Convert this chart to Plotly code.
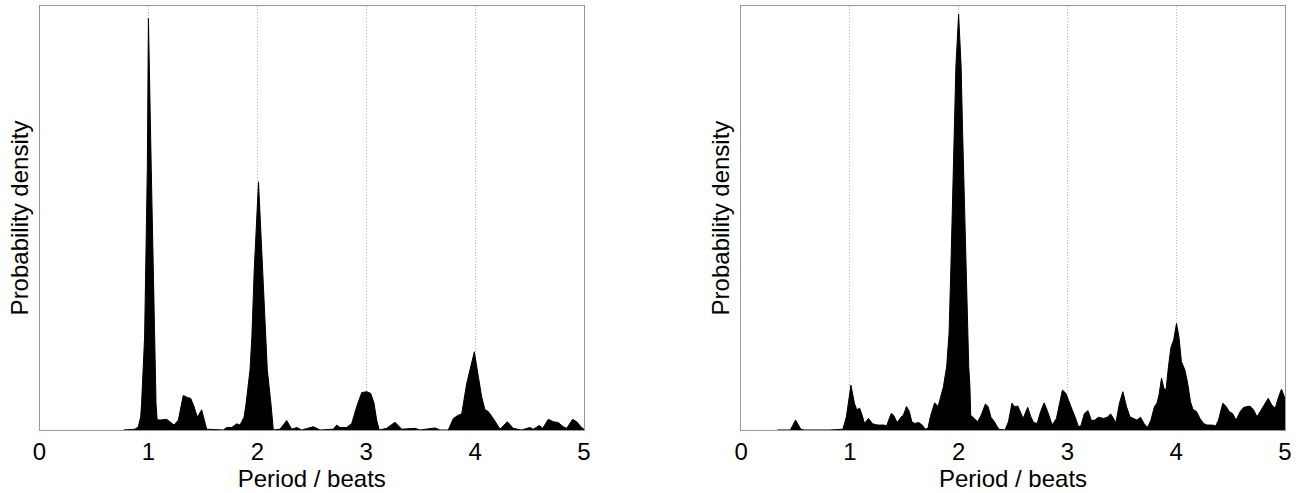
import plotly.graph_objects as go

# ---- data ----
left_x = [0.77, 0.877, 0.907, 0.929, 0.937, 0.965, 0.99, 1.0, 1.026, 1.057, 1.07, 1.08,
          1.107, 1.168, 1.198, 1.235, 1.275, 1.296, 1.32, 1.357, 1.388, 1.419, 1.449, 1.489,
          1.51, 1.535, 1.688, 1.719, 1.765, 1.811, 1.841, 1.878, 1.896, 1.933, 1.95, 1.972,
          2.011, 2.05, 2.074, 2.092, 2.126, 2.147, 2.208, 2.27, 2.316, 2.362, 2.408, 2.514,
          2.576, 2.698, 2.729, 2.76, 2.821, 2.867, 2.913, 2.959, 3.005, 3.041, 3.072, 3.096,
          3.12, 3.188, 3.264, 3.326, 3.448, 3.494, 3.632, 3.678, 3.754, 3.8, 3.846, 3.877,
          3.923, 3.993, 4.03, 4.06, 4.091, 4.121, 4.167, 4.229, 4.296, 4.351, 4.428, 4.504,
          4.535, 4.59, 4.621, 4.672, 4.718, 4.764, 4.81, 4.841, 4.896, 4.933, 4.979, 5.0]
left_y = [0.0, 0.002, 0.008, 0.032, 0.063, 0.226, 0.636, 1.0, 0.636, 0.226, 0.063, 0.025,
          0.024, 0.026, 0.02, 0.012, 0.024, 0.057, 0.084, 0.079, 0.077, 0.057, 0.031, 0.049,
          0.024, 0.002, 0.0, 0.006, 0.006, 0.015, 0.012, 0.031, 0.062, 0.146, 0.227, 0.39,
          0.603, 0.39, 0.227, 0.146, 0.062, 0.0, 0.002, 0.023, 0.002, 0.006, 0.0, 0.008,
          0.0, 0.002, 0.012, 0.006, 0.006, 0.016, 0.057, 0.091, 0.093, 0.089, 0.065, 0.024,
          0.0, 0.004, 0.019, 0.002, 0.004, 0.0, 0.005, 0.0, 0.0, 0.028, 0.036, 0.039,
          0.113, 0.19, 0.13, 0.081, 0.049, 0.045, 0.028, 0.002, 0.02, 0.004, 0.0, 0.006,
          0.002, 0.011, 0.004, 0.026, 0.02, 0.018, 0.008, 0.004, 0.026, 0.02, 0.006, 0.002]

right_x = [0.334, 0.453, 0.501, 0.549, 0.582, 0.817, 0.936, 0.968, 1.01, 1.042, 1.064, 1.09,
           1.113, 1.135, 1.171, 1.209, 1.257, 1.312, 1.338, 1.38, 1.402, 1.435, 1.473, 1.492,
           1.521, 1.547, 1.57, 1.595, 1.634, 1.666, 1.692, 1.718, 1.74, 1.779, 1.811, 1.837,
           1.86, 1.89, 1.912, 1.929, 1.943, 1.957, 1.975, 2.0, 2.023, 2.037, 2.051, 2.065,
           2.083, 2.093, 2.104, 2.111, 2.143, 2.175, 2.207, 2.246, 2.271, 2.297, 2.329, 2.368,
           2.426, 2.458, 2.49, 2.513, 2.545, 2.571, 2.593, 2.635, 2.664, 2.69, 2.722, 2.754,
           2.786, 2.818, 2.86, 2.899, 2.931, 2.954, 2.986, 3.012, 3.044, 3.07, 3.102, 3.124,
           3.156, 3.189, 3.221, 3.253, 3.285, 3.333, 3.366, 3.398, 3.446, 3.478, 3.51, 3.543,
           3.575, 3.607, 3.639, 3.672, 3.704, 3.736, 3.768, 3.8, 3.823, 3.842, 3.865, 3.887,
           3.906, 3.929, 3.951, 3.977, 4.003, 4.025, 4.048, 4.08, 4.106, 4.131, 4.154, 4.186,
           4.219, 4.251, 4.283, 4.331, 4.363, 4.389, 4.428, 4.46, 4.486, 4.518, 4.55, 4.589,
           4.621, 4.678, 4.711, 4.743, 4.782, 4.814, 4.846, 4.878, 4.91, 4.942, 4.968, 4.994, 5.0]
right_y = [0.0, 0.0, 0.024, 0.002, 0.0, 0.0, 0.002, 0.032, 0.109, 0.065, 0.049, 0.053,
           0.036, 0.016, 0.028, 0.015, 0.012, 0.012, 0.01, 0.04, 0.036, 0.018, 0.032, 0.036,
           0.057, 0.045, 0.02, 0.016, 0.018, 0.012, 0.002, 0.004, 0.032, 0.066, 0.057, 0.081,
           0.105, 0.154, 0.235, 0.397, 0.56, 0.72, 0.883, 1.01, 0.883, 0.72, 0.56, 0.397,
           0.235, 0.154, 0.105, 0.036, 0.028, 0.02, 0.036, 0.063, 0.057, 0.031, 0.02, 0.002,
           0.0, 0.02, 0.065, 0.057, 0.058, 0.04, 0.028, 0.055, 0.032, 0.018, 0.016, 0.045,
           0.066, 0.045, 0.012, 0.028, 0.073, 0.097, 0.089, 0.069, 0.049, 0.032, 0.008, 0.01,
           0.04, 0.047, 0.023, 0.024, 0.031, 0.028, 0.031, 0.039, 0.018, 0.065, 0.093, 0.057,
           0.032, 0.028, 0.024, 0.031, 0.016, 0.006, 0.024, 0.057, 0.065, 0.085, 0.126, 0.101,
           0.097, 0.154, 0.2, 0.219, 0.259, 0.227, 0.166, 0.146, 0.113, 0.069, 0.05, 0.045,
           0.028, 0.016, 0.012, 0.012, 0.01, 0.024, 0.065, 0.057, 0.045, 0.04, 0.024, 0.045,
           0.055, 0.058, 0.049, 0.032, 0.049, 0.063, 0.077, 0.061, 0.053, 0.081, 0.099, 0.081, 0.07]

tick_vals = [0, 1, 2, 3, 4, 5]
x_title = "Period / beats"
y_title = "Probability density"

FONT = "Liberation Sans, Arial, Helvetica, sans-serif"

fig = go.Figure()
fig.add_trace(go.Scatter(x=left_x, y=left_y, mode="lines", fill="tozeroy",
                         fillcolor="black", line=dict(color="black", width=1),
                         xaxis="x", yaxis="y", showlegend=False, hoverinfo="skip"))
fig.add_trace(go.Scatter(x=right_x, y=right_y, mode="lines", fill="tozeroy",
                         fillcolor="black", line=dict(color="black", width=1),
                         xaxis="x2", yaxis="y2", showlegend=False, hoverinfo="skip"))

xcommon = dict(range=[0, 5], tickvals=tick_vals, ticktext=[str(v) for v in tick_vals],
               showgrid=True, gridcolor="#b0b0b0", griddash="1px,2px", gridwidth=1,
               showline=True, linecolor="#999999", linewidth=1, mirror=True,
               ticks="", zeroline=False, automargin=False,
               tickfont=dict(family=FONT, size=24, color="black"),
               title=dict(text=x_title, font=dict(family=FONT, size=24, color="black"),
                          standoff=2))
ycommon = dict(range=[0, 1.03], showgrid=False, showticklabels=False, ticks="",
               showline=True, linecolor="#999999", linewidth=1, mirror=True, zeroline=False,
               automargin=False,
               title=dict(text=y_title, font=dict(family=FONT, size=24, color="black"),
                          standoff=3))

fig.update_layout(
    width=1296, height=493,
    margin=dict(l=0, r=0, t=0, b=0),
    paper_bgcolor="white", plot_bgcolor="white",
    xaxis=dict(domain=[0.0305, 0.4506], anchor="y", **xcommon),
    yaxis=dict(domain=[0.1278, 0.9878], anchor="x", **ycommon),
    xaxis2=dict(domain=[0.5718, 0.9915], anchor="y2", **xcommon),
    yaxis2=dict(domain=[0.1278, 0.9878], anchor="x2", **ycommon),
)

fig.write_html("out.html", config={"displayModeBar": False},
               post_script="document.body.style.margin='0px';document.body.style.overflow='hidden';")
